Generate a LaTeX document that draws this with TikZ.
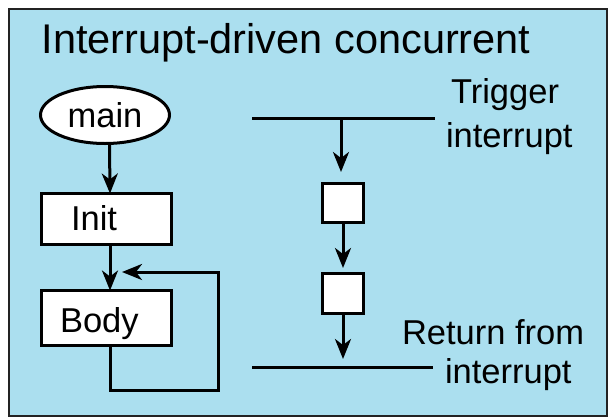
\documentclass[tikz,border=0pt]{standalone}
\usepackage{fontspec}
\setmainfont{Liberation Sans}
\usetikzlibrary{arrows.meta,shapes.geometric}
\definecolor{panelblue}{RGB}{171,223,239}
\definecolor{panelrim}{RGB}{35,35,35}
\begin{document}
\begin{tikzpicture}[x=1pt,y=-1pt,
  every node/.style={inner sep=0pt, outer sep=0pt},
  flow/.style={line width=3pt, -{Stealth[length=20pt,width=16pt,inset=6pt]}},
  wire/.style={line width=3pt},
  box/.style={draw, line width=3pt, fill=white},
  lbl/.style={font=\fontsize{34.5}{40}\selectfont, anchor=base west},
]
\useasboundingbox (0,0) rectangle (609,418);

% panel
\draw[fill=panelblue, draw=panelrim, line width=2.5pt] (9,9) rectangle (607,416);

% title
\node[anchor=base west, font=\fontsize{41.5}{48}\selectfont] (title) at (41.5,53) {Interrupt-driven concurrent};

% main loop program
\node[box, ellipse, minimum width=129pt, minimum height=57pt,
      font=\fontsize{34.5}{40}\selectfont] (main) at (105,115) {main};
\node[box, minimum width=130pt, minimum height=51pt] (init) at (106.5,219) {};
\node[lbl] (initlbl) at (71,230) {Init};
\node[box, minimum width=130pt, minimum height=55pt] (body) at (106.5,318) {};
\node[lbl] (bodylbl) at (60,332) {Body};
\coordinate (loopin) at (122,272);

\draw[flow] ([xshift=4.5pt]main.south) -- ([xshift=3.5pt]init.north);
\draw[flow] ([xshift=3.5pt]init.south) -- ([xshift=3.5pt]body.north);
\draw[flow] ([xshift=3.5pt]body.south) -- ++(0,44.5) -| (218,272) -- (loopin);

% interrupt handler
\coordinate (tl) at (252,118);
\coordinate (tr) at (435,118);
\coordinate (tap) at (341,118);
\coordinate (rl) at (252,367);
\coordinate (rr) at (433,367);
\node[box, minimum width=41pt, minimum height=39pt] (sq1) at (343,203) {};
\node[box, minimum width=41pt, minimum height=40pt] (sq2) at (343,293.5) {};

\draw[wire] (tl) -- (tr);
\draw[wire] (rl) -- (rr);
\draw[flow, shorten >=11.5pt] (tap) -- (tap |- sq1.north);
\draw[flow, shorten >=5.5pt] (sq1.south) -- (sq2.north);
\draw[flow, shorten >=8pt] (sq2.south) -- (sq2.south |- rl);

\node[lbl] (trig1) at (451,103) {Trigger};
\node[lbl] (trig2) at (446,147) {interrupt};
\node[lbl] (ret1) at (402,344) {Return from};
\node[lbl] (ret2) at (445,383) {interrupt};
\end{tikzpicture}
\end{document}
